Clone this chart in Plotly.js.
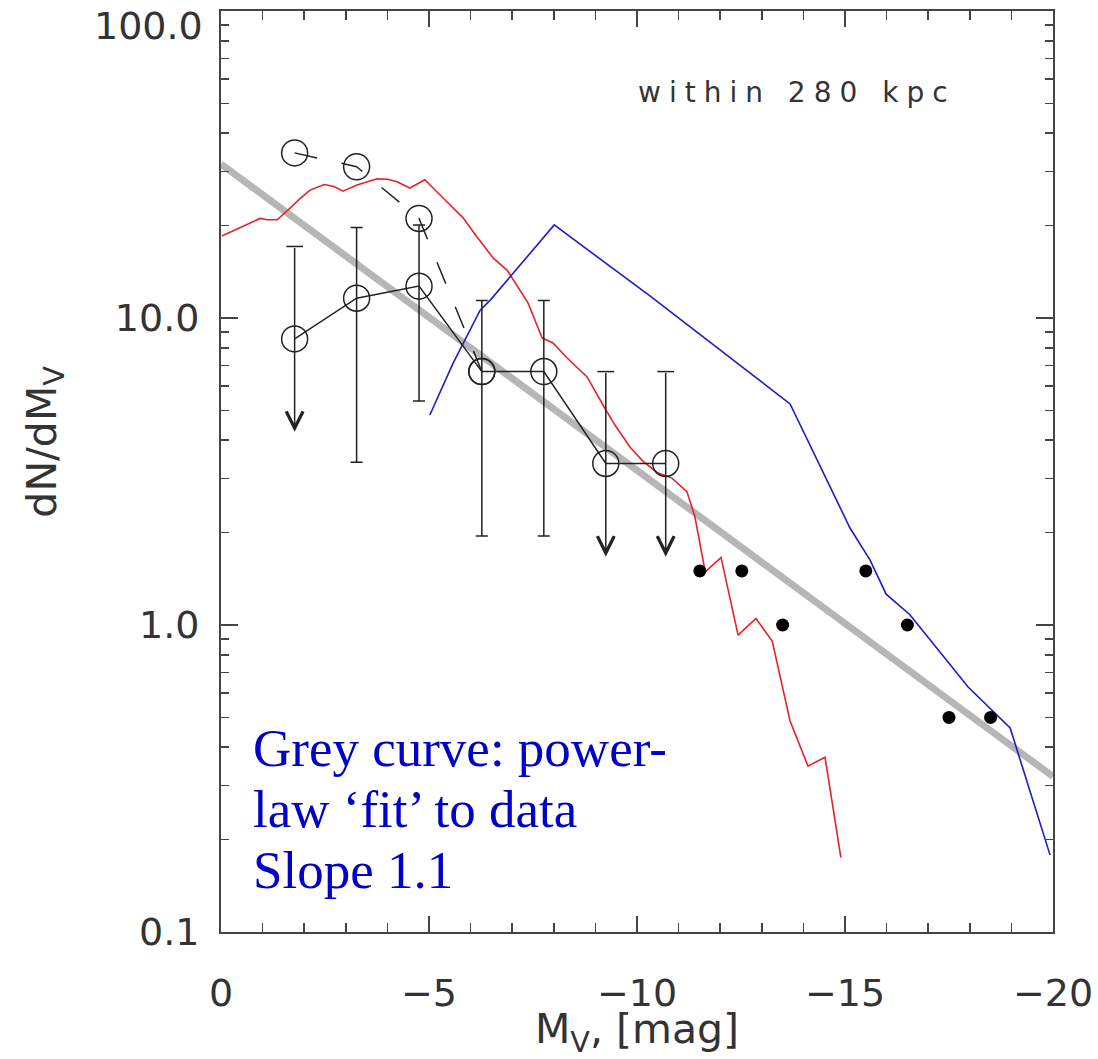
<!DOCTYPE html>
<html><head><meta charset="utf-8">
<script src="https://cdn.plot.ly/plotly-3.0.1.min.js"></script>
<style>html,body{margin:0;padding:0;background:#fff;}</style>
</head><body>
<div id="chart" style="width:1098px;height:1059px;"></div>
<script>
// ---- data ----
const fitX = [0, -20];
const fitY = [31.7, 0.321];

const redX = [-0.02,-0.29,-0.63,-0.94,-1.11,-1.35,-1.66,-1.90,-2.14,-2.48,-2.72,-2.93,-3.27,-3.51,-3.75,-4.01,-4.23,-4.54,-4.90,-5.26,-5.82,-6.15,-6.54,-6.88,-7.07,-7.38,-7.72,-7.98,-8.32,-8.80,-9.21,-9.47,-9.83,-10.14,-10.48,-10.84,-11.20,-11.39,-11.64,-12.02,-12.43,-12.86,-13.25,-13.68,-14.11,-14.52,-14.90];
const redY = [18.5,19.2,20.1,21.1,20.9,20.9,22.8,24.5,26.1,27.2,26.8,25.9,27.1,27.7,28.4,28.3,27.8,26.5,28.2,25.2,21.2,18.4,15.7,14.3,13.0,11.2,8.61,8.29,7.41,6.43,5.13,4.48,3.80,3.42,3.14,3.01,2.72,2.26,1.49,1.66,0.927,1.05,0.887,0.487,0.347,0.371,0.175];

const blueX = [-5.02,-5.58,-6.23,-6.49,-8.01,-10.31,-13.68,-15.12,-15.60,-15.99,-16.56,-17.96,-18.97,-19.93];
const blueY = [4.83,7.13,10.6,11.5,20.1,11.8,5.25,2.07,1.63,1.26,1.08,0.628,0.462,0.178];

const obsX = [-1.77,-3.26,-4.76,-6.27,-7.76,-9.25,-10.69];
const obsY = [8.55,11.6,12.7,6.69,6.69,3.36,3.36];
const obsTop = [17.1,19.7,20.1,11.4,11.4,6.69,6.69];
const obsBot = [4.26,3.39,5.37,1.95,1.95,1.67,1.67];
const obsLimit = [true,false,false,false,false,true,true];

const upperX = [-1.77,-3.26,-4.76,-6.27];
const upperY = [34.5,31.1,21.1,6.69];

const dotX = [-11.51,-12.52,-13.50,-15.50,-16.50,-17.50,-18.50];
const dotY = [1.5,1.5,1.0,1.5,1.0,0.5,0.5];

const xTickVals = [0,-5,-10,-15,-20];
const xTickText = ['0','\u22125','\u221210','\u221215','\u221220'];
const yTickVals = [0.1,1,10,100];
const yTickText = ['0.1','1.0','10.0','100.0'];

const xTitle = 'M<sub>V</sub>, [mag]';
const yTitle = 'dN/dM<sub>V</sub>';
const labelWithin = 'within 280 kpc';
const noteLines = ['Grey curve: power-', 'law \u2018fit\u2019 to data', 'Slope 1.1'];

// ---- build ----
const INK = '#222';
const capIdx = [], limIdx = [];
obsLimit.forEach((l,i)=> (l ? limIdx : capIdx).push(i));
const pick = (arr, idx) => idx.map(i => arr[i]);

const minorY = [];
[0.1,1,10].forEach(d => { for (let k=2;k<=9;k++) minorY.push(+(k*d).toPrecision(3)); });

const traces = [
  {x: fitX, y: fitY, mode:'lines', line:{color:'#b6b6b6', width:7}, hoverinfo:'skip'},
  {x: redX, y: redY, mode:'lines', line:{color:'#e82128', width:1.6}},
  {x: blueX, y: blueY, mode:'lines', line:{color:'#1c1cc8', width:1.6}},
  {x: upperX, y: upperY, mode:'lines+markers',
   line:{color:INK, width:1.5, dash:'23px,25px'},
   marker:{symbol:'circle-open', size:26, color:INK, line:{width:1.5, color:INK}}},
  {x: pick(obsX,capIdx), y: pick(obsY,capIdx), mode:'markers',
   marker:{size:1, color:'rgba(0,0,0,0)'},
   error_y:{type:'data', symmetric:false,
     array: capIdx.map(i=>obsTop[i]-obsY[i]),
     arrayminus: capIdx.map(i=>obsY[i]-obsBot[i]),
     color:INK, thickness:1.5, width:6}},
  {x: pick(obsX,limIdx), y: pick(obsTop,limIdx), mode:'markers',
   marker:{symbol:'line-ew', size:12, color:INK, line:{width:1.5, color:INK}}},
  {x: obsX, y: obsY, mode:'lines+markers', line:{color:INK, width:1.5},
   marker:{symbol:'circle-open', size:26, color:INK, line:{width:1.5, color:INK}}},
  {x: dotX, y: dotY, mode:'markers', marker:{symbol:'circle', size:13, color:'#000'}}
];

const tickFont = {family:'DejaVu Sans', size:38, color:'#333'};
const titleFont = {family:'DejaVu Sans', size:41, color:'#333'};

const annotations = [];
limIdx.forEach(i => {
  annotations.push({
    x: obsX[i], y: Math.log10(obsBot[i]), xref:'x', yref:'y',
    ax: obsX[i], ay: Math.log10(obsTop[i]), axref:'x', ayref:'y',
    text:'', showarrow:true, arrowhead:5, arrowsize:2.2, arrowwidth:1.5,
    arrowcolor:INK, standoff:0, startstandoff:0
  });
});
// top y tick label (drawn a little below the range edge, as in the reference)
annotations.push({
  x:-0.019, y:0.984, xref:'paper', yref:'paper', xanchor:'right', yanchor:'middle',
  text: yTickText[3], showarrow:false, font:tickFont
});
// y axis title
annotations.push({
  x:-0.212, y:0.532, xref:'paper', yref:'paper', xanchor:'center', yanchor:'middle',
  text: yTitle, textangle:-90, showarrow:false, font:titleFont
});
annotations.push({
  x:0.692, y:0.912, xref:'paper', yref:'paper', xanchor:'center', yanchor:'middle',
  text:'<span style="letter-spacing:8px">'+labelWithin+'</span>', showarrow:false,
  font:{family:'DejaVu Sans', size:28, color:'#333'}
});
const noteY = [0.200, 0.134, 0.067];
noteLines.forEach((t,k) => annotations.push({
  x:0.036, y:noteY[k], xref:'paper', yref:'paper', xanchor:'left', yanchor:'middle',
  text:t, showarrow:false,
  font:{family:'Liberation Serif, Times New Roman, serif', size:53, color:'#0000c8'}
}));

const layout = {
  width:1098, height:1059,
  margin:{l:221, r:45, t:11, b:127},
  paper_bgcolor:'#fff', plot_bgcolor:'#fff',
  showlegend:false,
  xaxis:{
    range:[0,-20], tickmode:'array', tickvals:xTickVals, ticktext:xTickText,
    ticks:'inside', ticklen:16, tickwidth:1.5, tickcolor:'#444',
    minor:{dtick:1, tick0:0, ticks:'inside', ticklen:9, tickwidth:1.5, tickcolor:'#444', showgrid:false},
    showline:true, linecolor:'#444', linewidth:2, mirror:'allticks',
    showgrid:false, zeroline:false, tickfont:tickFont, ticklabelstandoff:26,
    title:{text:xTitle, font:titleFont, standoff:6}
  },
  yaxis:{
    type:'log', range:[-1,2], tickmode:'array', tickvals:yTickVals,
    ticktext:[yTickText[0], yTickText[1], yTickText[2], ''],
    ticks:'inside', ticklen:17, tickwidth:1.5, tickcolor:'#444',
    minor:{tickmode:'array', tickvals:minorY, ticks:'inside', ticklen:8, tickwidth:1.5, tickcolor:'#444', showgrid:false},
    showline:true, linecolor:'#444', linewidth:2, mirror:'allticks',
    showgrid:false, zeroline:false, tickfont:tickFont, ticklabelstandoff:12
  },
  annotations: annotations
};

Plotly.newPlot('chart', traces, layout, {displayModeBar:false, staticPlot:true});
</script>
</body></html>
